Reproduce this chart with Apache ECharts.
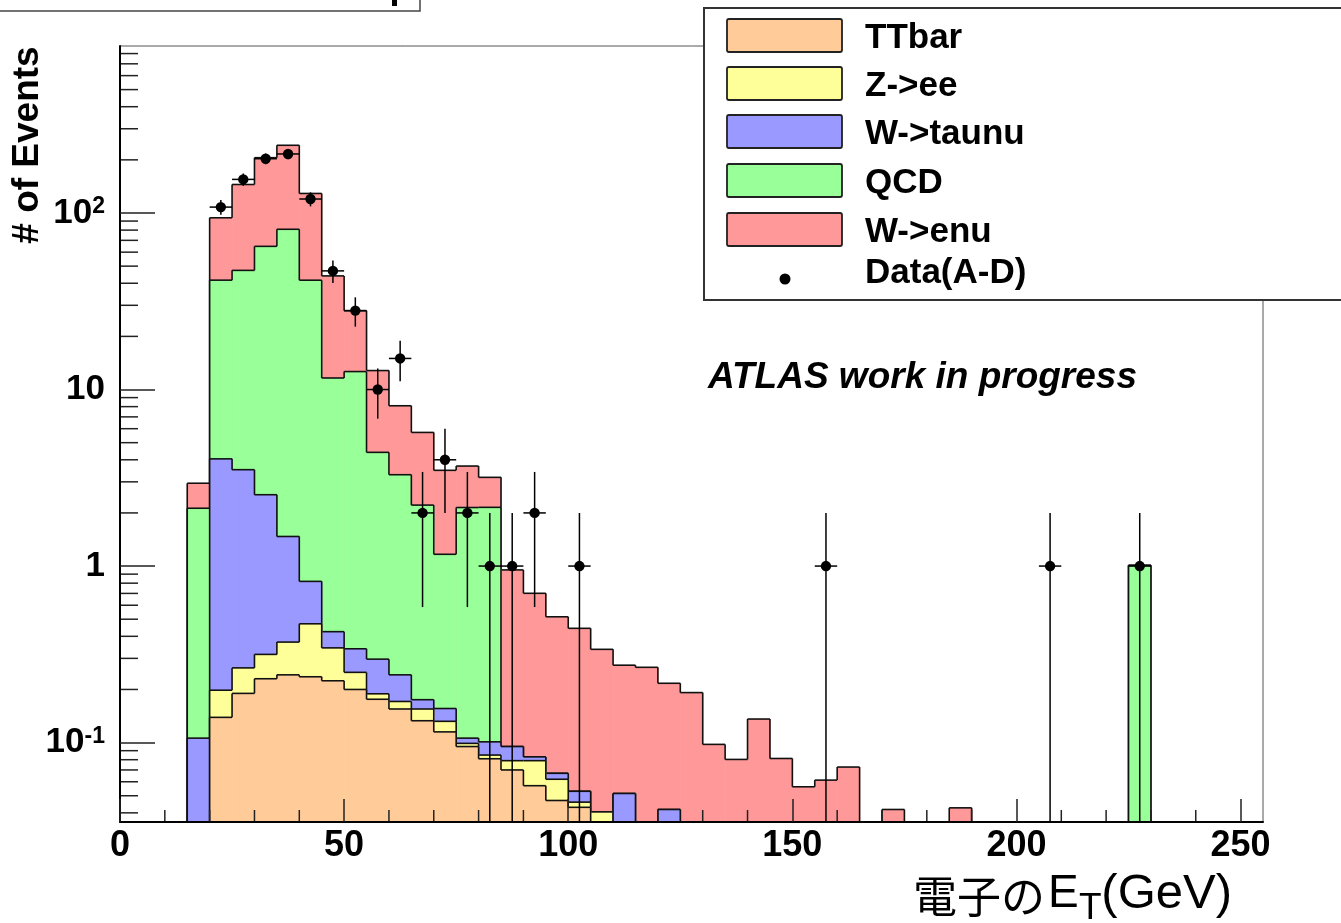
<!DOCTYPE html>
<html><head><meta charset="utf-8">
<script src="https://cdn.jsdelivr.net/npm/echarts@6/dist/echarts.min.js"></script>
<style>html,body{margin:0;padding:0;background:#fff}#c{width:1341px;height:923px}</style>
</head><body><div id="c"></div>
<script>
// ---- bins (lower edges, GeV) ----
const binLow = [15,20,25,30,35,40,45,50,55,60,65,70,75,80,85,90,95,100,105,110,115,120,125,130,135,140,145,150,155,160,165,170,175,180,185,190,195,200,205,210,215,220,225,230,235,240,245,250];
const BIN_W = 5;
// ---- per-process contents (stack bottom -> top) ----
const ttbar = [0,0.139,0.190,0.230,0.242,0.236,0.224,0.200,0.176,0.155,0.133,0.115,0.095,0.081,0.070,0.057,0.047,0.043,0,0,0,0,0,0,0,0,0,0,0,0,0,0,0,0,0,0,0,0,0,0,0,0,0,0,0,0,0,0];
const zee   = [0,0.059,0.075,0.086,0.129,0.235,0.120,0.050,0.013,0.016,0.022,0.017,0.004,0.004,0.009,0.022,0.015,0.003,0.0405,0,0,0,0,0,0,0,0,0,0,0,0,0,0,0,0,0,0,0,0,0,0,0,0,0,0,0,0,0];
const wtau  = [0.106,3.85,3.25,2.22,1.10,0.348,0.081,0.090,0.108,0.071,0.020,0.024,0.007,0.016,0.016,0.004,0.005,0.007,0,0.0515,0,0.0418,0,0,0,0,0,0,0,0,0,0,0,0,0,0,0,0,0,0,0,0,0,0,0,0,0,0];
const qcd   = [2.02,37.6,43.8,62.2,79.4,40.8,11.2,12.3,4.11,3.05,2.04,1.01,2.04,2.05,0,0,0,0,0,0,0,0,0,0,0,0,0,0,0,0,0,0,0,0,0,0,0,0,0,0,0,0,1.01,0,0,0,0,0];
const wenu  = [0.82,52.3,97.7,141,161,87.4,32.4,15.3,8.4,4.8,3.5,2.32,1.54,1.03,0.856,0.618,0.449,0.391,0.297,0.223,0.267,0.175,0.192,0.0977,0.0803,0.136,0.0813,0.0562,0.0613,0.0727,0,0.0418,0,0,0.0427,0,0,0,0,0,0,0,0,0,0,0,0,0];
// ---- data points ----
const dataX = [22.5,27.5,32.5,37.5,42.5,47.5,52.5,57.5,62.5,67.5,72.5,77.5,82.5,87.5,92.5,102.5,157.5,207.5,227.5];
const dataN = [108,155,203,216,120,47,28,10,15,2,4,2,1,1,2,1,1,1,1];
// ---- ticks ----
const xMajorTicks = [0,50,100,150,200,250];
const xMinorTicks = [10,20,30,40,60,70,80,90,110,120,130,140,160,170,180,190,210,220,230,240];
const yLabelValues = [0.1,1,10,100];
const yMinorTicks = [0.04,0.05,0.06,0.07,0.08,0.09,0.2,0.3,0.4,0.5,0.6,0.7,0.8,0.9,2,3,4,5,6,7,8,9,20,30,40,50,60,70,80,90,200,300,400,500,600,700,800];

const X_MIN = 0, X_MAX = 255, Y_MIN = 0.0355, Y_MAX = 883;

const stack = [
  {name:'TTbar',    color:'#ffcc99', vals:ttbar},
  {name:'Z->ee',    color:'#ffff99', vals:zee},
  {name:'W->taunu', color:'#9999ff', vals:wtau},
  {name:'QCD',      color:'#99ff99', vals:qcd},
  {name:'W->enu',   color:'#ff9999', vals:wenu}
];
// cumulative sums
let run = binLow.map(() => 0);
stack.forEach(s => { run = run.map((r, i) => r + s.vals[i]); s.cum = run.slice(); });

const FONT = '"Liberation Sans", Arial, sans-serif';

function histRender(cum, color) {
  return function (params, api) {
    const i = params.dataIndex;
    const x0 = api.value(0), x1 = api.value(1);
    const v = cum[i], pv = i > 0 ? cum[i - 1] : 0;
    const vy = v > Y_MIN ? v : Y_MIN, pvy = pv > Y_MIN ? pv : Y_MIN;
    const ch = [];
    const ls = {stroke:'#111', lineWidth:1.6};
    if (v > Y_MIN) {
      const tl = api.coord([x0, v]), br = api.coord([x1, Y_MIN]);
      ch.push({type:'rect', shape:{x:tl[0], y:tl[1], width:br[0]-tl[0]+0.6, height:br[1]-tl[1]}, style:{fill:color}});
      const b = api.coord([x1, v]);
      ch.push({type:'line', z2:5, shape:{x1:tl[0], y1:tl[1], x2:b[0], y2:b[1]}, style:ls});
    }
    if (Math.abs(vy - pvy) > 1e-12) {
      const a = api.coord([x0, pvy]), b = api.coord([x0, vy]);
      ch.push({type:'line', z2:5, shape:{x1:a[0], y1:a[1], x2:b[0], y2:b[1]}, style:ls});
    }
    return {type:'group', children:ch};
  };
}

const series = [];
stack.slice().reverse().forEach((s, k) => {
  series.push({
    type:'custom', name:s.name, z: 3 + k, clip:true, silent:true,
    data: binLow.map((b, i) => [b, b + BIN_W, s.cum[i]]),
    encode:{x:[0,1], y:2},
    renderItem: histRender(s.cum, s.color)
  });
});

series.push({
  type:'custom', name:'Data(A-D)', z:10, clip:true, silent:true,
  data: dataX.map((x, i) => [x, dataN[i]]),
  encode:{x:0, y:1},
  renderItem: function (params, api) {
    const x = api.value(0), n = api.value(1), e = Math.sqrt(n);
    const hi = api.coord([x, n + e]), lo = api.coord([x, Math.max(n - e, Y_MIN)]);
    const c = api.coord([x, n]), l = api.coord([x - BIN_W / 2, n]), r = api.coord([x + BIN_W / 2, n]);
    const ls = {stroke:'#000', lineWidth:1.5};
    return {type:'group', children:[
      {type:'line', shape:{x1:hi[0], y1:hi[1], x2:lo[0], y2:lo[1]}, style:ls},
      {type:'line', shape:{x1:l[0], y1:l[1], x2:r[0], y2:r[1]}, style:ls},
      {type:'circle', shape:{cx:c[0], cy:c[1], r:5.2}, style:{fill:'#000'}}
    ]};
  }
});

// minor ticks
series.push({
  type:'custom', name:'yMinorTicks', z:12, clip:false, silent:true,
  data: yMinorTicks.map(v => [X_MIN, v]), encode:{x:0, y:1},
  renderItem: function (params, api) {
    const p = api.coord([api.value(0), api.value(1)]);
    return {type:'line', shape:{x1:p[0], y1:p[1], x2:p[0] + 18, y2:p[1]}, style:{stroke:'#222', lineWidth:1.5}};
  }
});
series.push({
  type:'custom', name:'xMinorTicks', z:12, clip:false, silent:true,
  data: xMinorTicks.map(v => [v, Y_MIN]), encode:{x:0, y:1},
  renderItem: function (params, api) {
    const p = api.coord([api.value(0), api.value(1)]);
    return {type:'line', shape:{x1:p[0], y1:p[1], x2:p[0], y2:p[1] - 12}, style:{stroke:'#222', lineWidth:1.5}};
  }
});

// legend (drawn as graphic, ROOT-style)
const legendTops = [19, 67, 115, 164, 213];
const gLegend = [{type:'rect', z:50, shape:{x:704, y:8, width:700, height:292}, style:{fill:'#fff', stroke:'#333', lineWidth:2}}];
stack.forEach((s, i) => {
  gLegend.push({type:'rect', z:51, shape:{x:727, y:legendTops[i], width:115, height:33, r:2}, style:{fill:s.color, stroke:'#222', lineWidth:1.8}});
  gLegend.push({type:'text', z:51, x:865, y:legendTops[i] + 19, style:{text:s.name, font:'bold 35px ' + FONT, fill:'#000', align:'left', verticalAlign:'middle'}});
});
gLegend.push({type:'circle', z:51, shape:{cx:785, cy:279, r:5.5}, style:{fill:'#000'}});
gLegend.push({type:'text', z:51, x:865, y:273, style:{text:'Data(A-D)', font:'bold 35px ' + FONT, fill:'#000', align:'left', verticalAlign:'middle'}});

const chart = echarts.init(document.getElementById('c'), null, {renderer:'canvas'});
chart.setOption({
  animation:false,
  backgroundColor:'#fff',
  grid:{left:120, right:78, top:46, bottom:101, show:true, borderColor:'#555', borderWidth:1, backgroundColor:'transparent'},
  xAxis:{
    type:'value', min:X_MIN, max:X_MAX, interval:50, z:14,
    axisLine:{show:true, onZero:false, lineStyle:{color:'#000', width:2}},
    axisTick:{show:true, inside:true, length:23, customValues:xMajorTicks, lineStyle:{color:'#222', width:1.5}},
    axisLabel:{show:true, customValues:xMajorTicks, margin:6, color:'#000', fontSize:36, fontWeight:'bold', fontFamily:FONT},
    splitLine:{show:false}, minorTick:{show:false}
  },
  yAxis:{
    type:'log', logBase:10, min:Y_MIN, max:Y_MAX, z:14,
    axisLine:{show:true, onZero:false, lineStyle:{color:'#000', width:2}},
    axisTick:{show:true, inside:true, length:35, customValues:yLabelValues, lineStyle:{color:'#222', width:1.5}},
    axisLabel:{
      show:true, customValues:yLabelValues, margin:15, color:'#000',
      formatter:function (v) {
        const e = Math.round(Math.log10(v));
        if (Math.abs(Math.log10(v) - e) > 1e-6) return '';
        if (e === 0) return '{n|1}';
        if (e === 1) return '{n|10}';
        return '{n|10}{s|' + e + '}';
      },
      rich:{
        n:{fontSize:35, fontWeight:'bold', fontFamily:FONT, color:'#000', lineHeight:35},
        s:{fontSize:23, fontWeight:'bold', fontFamily:FONT, color:'#000', verticalAlign:'top', lineHeight:23}
      }
    },
    splitLine:{show:false}
  },
  series:series,
  graphic:[
    // fragment of a title box at the top-left
    {type:'rect', z:40, shape:{x:-5, y:-20, width:425, height:31}, style:{fill:'none', stroke:'#444', lineWidth:1.5}},
    {type:'rect', z:40, shape:{x:392, y:0, width:5, height:6}, style:{fill:'#000'}},
    // axis titles
    {type:'text', z:40, x:28, y:145, rotation:Math.PI/2, style:{text:'# of Events', font:'bold 37px ' + FONT, fill:'#000', align:'center', verticalAlign:'middle'}},
    {type:'text', z:40, x:1045, y:896, style:{text:'電子の', font:'44px "Noto Sans CJK JP", sans-serif', fill:'#000', align:'right', verticalAlign:'middle'}},
    {type:'text', z:40, x:1048, y:894, style:{text:'E', font:'46px ' + FONT, fill:'#000', align:'left', verticalAlign:'middle'}},
    {type:'text', z:40, x:1079, y:909, style:{text:'T', font:'37px ' + FONT, fill:'#000', align:'left', verticalAlign:'middle'}},
    {type:'text', z:40, x:1232, y:894, style:{text:'(GeV)', font:'49px ' + FONT, fill:'#000', align:'right', verticalAlign:'middle'}},
    // annotation
    {type:'text', z:40, x:708, y:378, style:{text:'ATLAS work in progress', font:'italic bold 37px ' + FONT, fill:'#000', align:'left', verticalAlign:'middle'}}
  ].concat(gLegend)
});
</script>
</body></html>
